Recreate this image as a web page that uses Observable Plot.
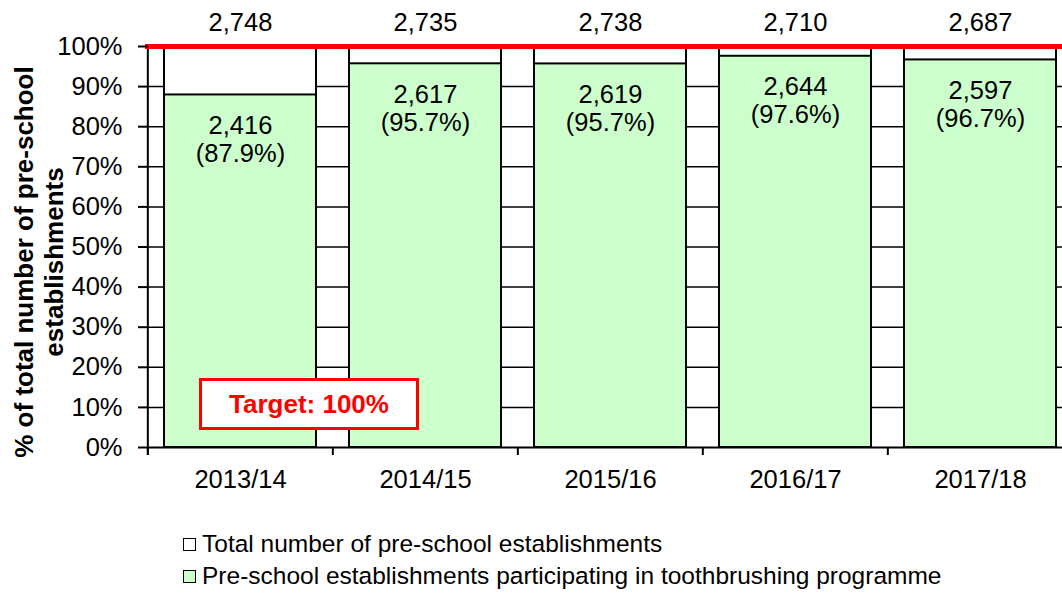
<!DOCTYPE html>
<html>
<head>
<meta charset="utf-8">
<script src="https://cdn.jsdelivr.net/npm/d3@7"></script>
<script src="https://cdn.jsdelivr.net/npm/@observablehq/plot@0.6"></script>
<style>
  html, body { margin: 0; padding: 0; background: white; overflow: hidden; }
  #wrap { position: relative; width: 1062px; height: 594px; font-family: "Liberation Sans", Arial, sans-serif; }
  #wrap svg { overflow: hidden; }
  .target { position: absolute; left: 199px; top: 378px; width: 214px; height: 46px; border: 3px solid #ff0000; background: white;
            color: #ff0000; font-weight: bold; font-size: 26px; display: flex; align-items: center; justify-content: center; }
  .legend { position: absolute; left: 183px; top: 528px; font-family: "Liberation Sans", Arial, sans-serif; font-size: 24.5px; color: #000; }
  .legend div { display: flex; align-items: center; height: 32px; line-height: 32px; white-space: nowrap; }
  .legend span.sw { display: inline-block; width: 11px; height: 11px; border: 1px solid #000; margin-right: 6px; }
</style>
</head>
<body>
<div id="wrap"></div>
<script>
const categories = ["2013/14", "2014/15", "2015/16", "2016/17", "2017/18"];
const totals = [2748, 2735, 2738, 2710, 2687];
const participating = [2416, 2617, 2619, 2644, 2597];
const yTicks = [0, 0.1, 0.2, 0.3, 0.4, 0.5, 0.6, 0.7, 0.8, 0.9, 1.0];
const targetValue = 1.0;
const seriesNames = ["Total number of pre-school establishments", "Pre-school establishments participating in toothbrushing programme"];
const seriesColors = ["#ffffff", "#ccffcc"];

const fmt = d3.format(",");
const data = categories.map((c, i) => ({
  cat: c,
  total: totals[i],
  part: participating[i],
  ratio: participating[i] / totals[i],
  pctLabel: "(" + (participating[i] / totals[i] * 100).toFixed(1) + "%)"
}));

const xRange = [148, 1071];
const padInner = 0.18, padOuter = 0.08;
const step = (xRange[1] - xRange[0]) / (categories.length - padInner + 2 * padOuter);

const font = "'Liberation Sans', Arial, sans-serif";
const fs = 25.5;

const chart = Plot.plot({
  width: 1062,
  height: 515,
  marginLeft: 148,
  marginRight: 0,
  marginTop: 46,
  marginBottom: 68,
  style: { fontFamily: font, fontSize: fs + "px", color: "#000", background: "white", overflow: "hidden" },
  x: { type: "band", domain: categories, range: xRange, paddingInner: padInner, paddingOuter: padOuter, align: 0.5, label: null },
  y: { domain: [0, 1], range: [447, 46], label: null },
  marks: [
    Plot.ruleY(yTicks.slice(1), { stroke: "#000", strokeWidth: 1.5 }),
    Plot.barY(data, { x: "cat", y: d => 1, fill: seriesColors[0], stroke: "#000", strokeWidth: 2 }),
    Plot.barY(data, { x: "cat", y: "ratio", fill: seriesColors[1], stroke: "#000", strokeWidth: 2 }),
    Plot.ruleY([0], { stroke: "#000", strokeWidth: 2 }),
    Plot.ruleX(data, { x: "cat", y1: 0, y2: 0, insetBottom: -8, dx: -step / 2, stroke: "#000", strokeWidth: 2 }),
    Plot.ruleX(data.slice(0, 1), { x: "cat", y1: 1, y2: 0, insetBottom: -8, dx: -step / 2, stroke: "#000", strokeWidth: 2 }),
    Plot.ruleY([targetValue], { stroke: "#ff0000", strokeWidth: 5, insetLeft: -3 }),
    Plot.axisY({ ticks: yTicks, tickFormat: d => Math.round(d * 100) + "%", tickSize: 10, tickPadding: 16, strokeWidth: 2, fontSize: fs }),
    Plot.axisX({ tickSize: 0, tickPadding: 22, fontSize: fs }),
    Plot.text(data, { x: "cat", y: d => 1, text: d => fmt(d.total), dy: -24, fontSize: fs, fill: "#000" }),
    Plot.text(data, { x: "cat", y: "ratio", text: d => fmt(d.part), dy: 31, fontSize: fs, fill: "#000" }),
    Plot.text(data, { x: "cat", y: "ratio", text: "pctLabel", dy: 59, fontSize: fs, fill: "#000" }),
    Plot.text(["% of total number of pre-school\nestablishments"], {
      frameAnchor: "left", dx: -110, dy: 15, rotate: -90, fontSize: 26, fontWeight: "bold", lineHeight: 1.15, lineAnchor: "middle", textAnchor: "middle", fill: "#000"
    })
  ]
});

const wrap = document.getElementById("wrap");
wrap.appendChild(chart);

const target = document.createElement("div");
target.className = "target";
target.textContent = "Target: 100%";
wrap.appendChild(target);

const legend = document.createElement("div");
legend.className = "legend";
seriesNames.forEach((name, i) => {
  const row = document.createElement("div");
  const sw = document.createElement("span");
  sw.className = "sw";
  sw.style.background = seriesColors[i];
  row.appendChild(sw);
  row.appendChild(document.createTextNode(name));
  legend.appendChild(row);
});
wrap.appendChild(legend);
</script>
</body>
</html>
